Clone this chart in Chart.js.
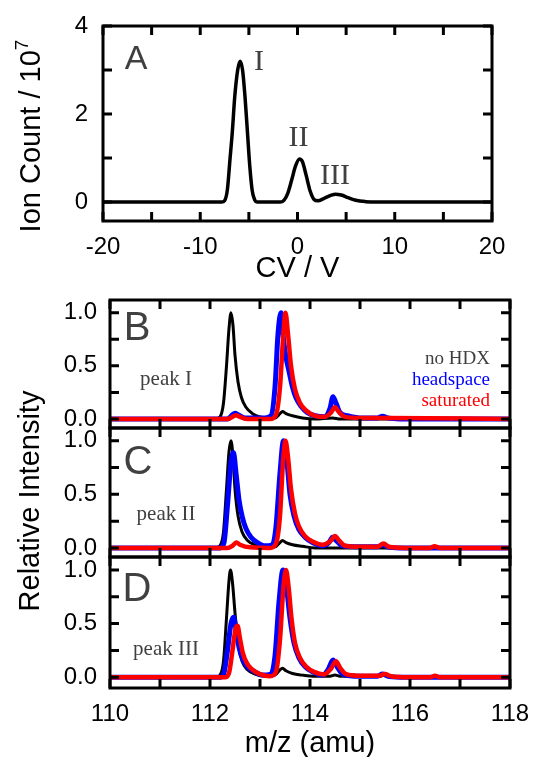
<!DOCTYPE html>
<html>
<head>
<meta charset="utf-8">
<script src="https://cdn.jsdelivr.net/npm/chart.js@4.4.0/dist/chart.umd.min.js"></script>
<style>
  body { margin: 0; background: #fff; }
  #wrap { position: relative; width: 533px; height: 757px; overflow: hidden; }
  canvas { position: absolute; left: 0; }
  .ytitle {
    position: absolute;
    transform: translate(-50%, -50%) rotate(-90deg);
    font: 29px "Liberation Sans", Arial, sans-serif;
    white-space: nowrap; color: #000;
  }
  .ytitle sup { font-size: 19px; vertical-align: 12px; line-height: 0; }
</style>
</head>
<body>
<div id="wrap">
  <canvas id="panelA" width="533" height="290" style="top:0px"></canvas>
  <canvas id="panelB" width="533" height="150" style="top:290px"></canvas>
  <canvas id="panelC" width="533" height="150" style="top:420px"></canvas>
  <canvas id="panelD" width="533" height="215" style="top:550px"></canvas>
  <div class="ytitle" style="left:30px; top:136px">Ion Count / 10<sup>7</sup></div>
  <div class="ytitle" style="left:29px; top:501px">Relative Intensity</div>
</div>
<script>
// tick labels and tick marks
const cvTicks = [-20, -10, 0, 10, 20];
const cvMinor = [-20, -15, -10, -5, 0, 5, 10, 15, 20];
const ionTicks = [0, 2, 4];
const ionMinor = [0, 1, 2, 3, 4];
const mzTicks = [110, 112, 114, 116, 118];
const mzMinor = [110, 111, 112, 113, 114, 115, 116, 117, 118];
const relTicks = [0, 0.5, 1.0];
const relMinor = [0, 0.25, 0.5, 0.75, 1.0];

// panel A: ion count (x10^7) vs CV
const cvCurve = [[-20,0],[-7.8,0],[-7.5,0.03],[-7.2,0.3],[-6.95,0.95],[-6.7,1.6],[-6.45,2.4],[-6.15,3.0],[-5.9,3.2],
  [-5.65,3.0],[-5.4,2.4],[-5.15,1.6],[-4.9,0.8],[-4.65,0.25],[-4.4,0.05],[-4.1,0],[-1.8,0],[-1.4,0.04],[-1.0,0.2],
  [-0.6,0.5],[-0.2,0.82],[0.2,0.98],[0.5,0.92],[0.9,0.6],[1.3,0.25],[1.7,0.06],[2.1,0.03],[2.7,0.08],[3.4,0.15],
  [3.9,0.18],[4.5,0.16],[5.2,0.1],[6.0,0.04],[7.0,0.01],[8.2,0],[20,0]];

// panel B: peak I
const bNoHdx = [[110,0],[112.1,0],[112.2,0.02],[112.27,0.15],[112.33,0.5],[112.38,0.85],[112.42,1.0],[112.46,0.88],
  [112.5,0.6],[112.56,0.35],[112.63,0.2],[112.72,0.11],[112.85,0.05],[113.0,0.02],[113.3,0.01],[113.4,0.05],
  [113.45,0.07],[113.52,0.05],[113.65,0.03],[113.85,0.01],[114.1,0],[114.45,0.01],[114.6,0],[118,0]];
const bHead = [[110,0],[112.35,0],[112.45,0.04],[112.5,0.055],[112.56,0.04],[112.7,0.01],[113.1,0.01],[113.22,0.03],
  [113.3,0.3],[113.36,0.8],[113.42,1.0],[113.47,0.75],[113.52,0.58],[113.58,0.45],[113.65,0.3],[113.72,0.2],
  [113.82,0.12],[113.95,0.06],[114.1,0.03],[114.3,0.02],[114.4,0.1],[114.46,0.21],[114.52,0.15],[114.6,0.06],
  [114.75,0.03],[115.0,0.01],[115.35,0.01],[115.45,0.025],[115.55,0.01],[115.8,0],[118,0]];
const bSat = [[110,0],[112.35,0],[112.45,0.02],[112.52,0.035],[112.6,0.02],[112.75,0],[113.2,0],[113.32,0.04],
  [113.4,0.3],[113.46,0.75],[113.51,1.0],[113.56,0.8],[113.62,0.5],[113.7,0.28],[113.8,0.15],[113.92,0.08],
  [114.1,0.03],[114.3,0.02],[114.42,0.06],[114.5,0.11],[114.57,0.07],[114.7,0.02],[115.0,0.01],[115.5,0.01],[118,0]];

// panel C: peak II
const cNoHdx = [[110,0],[112.1,0],[112.2,0.02],[112.27,0.15],[112.33,0.55],[112.38,0.9],[112.42,1.0],[112.46,0.85],
  [112.5,0.55],[112.56,0.3],[112.64,0.15],[112.75,0.07],[112.9,0.03],[113.1,0.01],[113.3,0.01],[113.4,0.05],
  [113.45,0.07],[113.52,0.05],[113.65,0.03],[113.85,0.015],[114.1,0],[118,0]];
const cHead = [[110,0],[112.2,0],[112.28,0.05],[112.35,0.4],[112.42,0.8],[112.47,0.89],[112.52,0.7],[112.58,0.45],
  [112.65,0.28],[112.72,0.18],[112.82,0.1],[112.95,0.05],[113.1,0.02],[113.25,0.03],[113.32,0.2],[113.4,0.7],
  [113.47,1.0],[113.53,0.85],[113.6,0.5],[113.68,0.3],[113.78,0.17],[113.9,0.1],[114.05,0.05],[114.25,0.02],
  [114.38,0.05],[114.45,0.1],[114.52,0.07],[114.65,0.02],[115.0,0.01],[115.35,0.01],[115.45,0.03],[115.55,0.01],
  [115.8,0],[118,0]];
const cSat = [[110,0],[112.35,0],[112.45,0.02],[112.53,0.05],[112.6,0.03],[112.8,0.005],[113.2,0],[113.32,0.04],
  [113.4,0.3],[113.46,0.8],[113.51,1.0],[113.56,0.85],[113.62,0.55],[113.7,0.32],[113.78,0.2],[113.9,0.11],
  [114.05,0.06],[114.25,0.03],[114.4,0.06],[114.5,0.11],[114.58,0.07],[114.7,0.02],[115.0,0.01],[115.35,0.01],
  [115.47,0.04],[115.58,0.01],[115.9,0],[116.4,0],[116.49,0.015],[116.6,0],[118,0]];

// panel D: peak III
const dNoHdx = [[110,0],[112.1,0],[112.2,0.02],[112.27,0.15],[112.33,0.55],[112.38,0.9],[112.41,1.0],[112.45,0.88],
  [112.5,0.6],[112.56,0.32],[112.64,0.15],[112.75,0.07],[112.9,0.03],[113.1,0.01],[113.3,0.02],[113.4,0.07],
  [113.45,0.085],[113.52,0.06],[113.65,0.035],[113.85,0.02],[114.1,0.01],[114.4,0.01],[114.5,0.02],[114.6,0.01],
  [115.4,0.01],[115.5,0.02],[115.6,0],[118,0]];
const dHead = [[110,0],[112.2,0],[112.28,0.04],[112.35,0.25],[112.42,0.5],[112.47,0.56],[112.52,0.45],[112.58,0.28],
  [112.66,0.16],[112.76,0.09],[112.9,0.05],[113.05,0.02],[113.22,0.03],[113.3,0.2],[113.38,0.7],[113.46,1.0],
  [113.52,0.88],[113.6,0.55],[113.68,0.32],[113.78,0.18],[113.9,0.1],[114.05,0.05],[114.25,0.02],[114.36,0.07],
  [114.46,0.16],[114.54,0.1],[114.65,0.03],[115.0,0.01],[115.35,0.01],[115.45,0.03],[115.55,0.01],[115.8,0],[118,0]];
const dSat = [[110,0],[112.3,0],[112.38,0.04],[112.45,0.25],[112.51,0.45],[112.55,0.48],[112.6,0.36],[112.66,0.22],
  [112.74,0.13],[112.85,0.07],[113.0,0.03],[113.2,0.01],[113.32,0.05],[113.4,0.35],[113.47,0.85],[113.52,1.0],
  [113.57,0.85],[113.63,0.55],[113.7,0.32],[113.8,0.18],[113.92,0.1],[114.08,0.05],[114.28,0.025],[114.42,0.08],
  [114.52,0.15],[114.6,0.09],[114.72,0.03],[115.0,0.015],[115.38,0.015],[115.5,0.03],[115.62,0.01],[116.0,0],
  [116.4,0],[116.5,0.015],[116.6,0],[118,0]];

Chart.defaults.font.family = '"Liberation Sans", Arial, sans-serif';
Chart.defaults.color = '#000';

const SANS = '"Liberation Sans", Arial, sans-serif';
const SERIF = '"Liberation Serif", "Times New Roman", serif';
const GREY = '#404040';

// box with inward ticks on all four sides, plus text notes in data coords
function frame(minorX, minorY, notes) {
  return {
    id: 'frame',
    beforeDatasetsDraw(chart) {
      const { ctx, scales: { x, y } } = chart;
      ctx.save();
      ctx.textBaseline = 'middle';
      notes.forEach(n => {
        ctx.font = n.font;
        ctx.fillStyle = n.color;
        ctx.textAlign = n.align || 'center';
        ctx.fillText(n.text, x.getPixelForValue(n.x), y.getPixelForValue(n.y));
      });
      ctx.restore();
    },
    afterDatasetsDraw(chart) {
      const { ctx, chartArea: a, scales: { x, y } } = chart;
      const len = 9;
      ctx.save();
      ctx.strokeStyle = '#000';
      ctx.lineWidth = 3;
      ctx.beginPath();
      minorX.forEach(v => {
        const px = x.getPixelForValue(v);
        ctx.moveTo(px, a.bottom); ctx.lineTo(px, a.bottom - len);
        ctx.moveTo(px, a.top); ctx.lineTo(px, a.top + len);
      });
      minorY.forEach(v => {
        const py = y.getPixelForValue(v);
        ctx.moveTo(a.left, py); ctx.lineTo(a.left + len, py);
        ctx.moveTo(a.right, py); ctx.lineTo(a.right - len, py);
      });
      ctx.stroke();
      ctx.strokeRect(a.left, a.top, a.right - a.left, a.bottom - a.top);
      ctx.restore();
    }
  };
}

const setTicks = list => s => { s.ticks = list.map(v => ({ value: v })); };
const fixWidth = w => s => { s.width = w; s.paddingTop = 0; s.paddingBottom = 0; };
const fixHeight = h => s => { s.height = h; s.paddingLeft = 0; s.paddingRight = 0; };

// order: lower number is painted on top
function line(data, color, width, order) {
  return { data, borderColor: color, borderWidth: width, pointRadius: 0, fill: false, order,
    cubicInterpolationMode: 'monotone' };
}

const noGrid = { display: false, drawTicks: false };
const base = {
  responsive: false,
  animation: false,
  events: [],
  plugins: { legend: { display: false }, tooltip: { enabled: false } }
};

new Chart(document.getElementById('panelA'), {
  type: 'line',
  data: { datasets: [line(cvCurve, '#000', 3.5, 0)] },
  options: {
    ...base,
    layout: { padding: { left: 0, right: 41, top: 26, bottom: 0 } },
    scales: {
      x: {
        type: 'linear', min: -20, max: 20,
        grid: noGrid, border: { display: false },
        ticks: { font: { size: 24 }, padding: 12, maxRotation: 0, autoSkip: false },
        afterBuildTicks: setTicks(cvTicks),
        afterFit: fixHeight(69),
        title: { display: true, text: 'CV / V', font: { size: 29 }, padding: { top: 0, bottom: 4 } }
      },
      y: {
        min: -0.43, max: 4,
        grid: noGrid, border: { display: false },
        ticks: { font: { size: 24 }, padding: 15 },
        afterBuildTicks: setTicks(ionTicks),
        afterFit: fixWidth(103)
      }
    }
  },
  plugins: [frame(cvMinor, ionMinor, [
    { x: -16.6, y: 3.23, text: 'A', font: '34px ' + SANS, color: GREY },
    { x: -3.95, y: 3.18, text: 'I', font: '30px ' + SERIF, color: GREY },
    { x: 0.1, y: 1.45, text: 'II', font: '30px ' + SERIF, color: GREY },
    { x: 3.85, y: 0.59, text: 'III', font: '30px ' + SERIF, color: GREY }
  ])]
});

function spectrum(id, series, notes, opts) {
  const x = {
    type: 'linear', min: 110, max: 118, display: opts.showX,
    grid: noGrid, border: { display: false },
    ticks: { font: { size: 24 }, padding: 12, maxRotation: 0, autoSkip: false },
    afterBuildTicks: setTicks(mzTicks),
    title: { display: opts.showX, text: 'm/z (amu)', font: { size: 29 }, padding: { top: 0, bottom: 4 } }
  };
  if (opts.showX) x.afterFit = fixHeight(77);
  return new Chart(document.getElementById(id), {
    type: 'line',
    data: { datasets: [
      line(series[0], '#000', 3, 2),
      line(series[1], '#0000ff', 5, 1),
      line(series[2], '#ff0000', 4.5, 0)
    ] },
    options: {
      ...base,
      layout: { padding: { left: 0, right: 23, top: opts.top, bottom: opts.bottom } },
      scales: {
        x,
        y: {
          min: opts.min, max: 1.12,
          grid: noGrid, border: { display: false },
          ticks: { font: { size: 24 }, padding: 13, callback: v => v.toFixed(1) },
          afterBuildTicks: setTicks(relTicks),
          afterFit: fixWidth(110)
        }
      }
    },
    plugins: [frame(mzMinor, relMinor, notes)]
  });
}

spectrum('panelB', [bNoHdx, bHead, bSat], [
  { x: 110.54, y: 0.85, text: 'B', font: '40px ' + SANS, color: GREY },
  { x: 111.12, y: 0.37, text: 'peak I', font: '21px ' + SERIF, color: GREY },
  { x: 117.6, y: 0.56, text: 'no HDX', font: '19px ' + SERIF, color: GREY, align: 'right' },
  { x: 117.6, y: 0.37, text: 'headspace', font: '19px ' + SERIF, color: '#0000ff', align: 'right' },
  { x: 117.6, y: 0.17, text: 'saturated', font: '19px ' + SERIF, color: '#ff0000', align: 'right' }
], { top: 10, bottom: 12, min: -0.085, showX: false });

spectrum('panelC', [cNoHdx, cHead, cSat], [
  { x: 110.56, y: 0.79, text: 'C', font: '40px ' + SANS, color: GREY },
  { x: 111.12, y: 0.31, text: 'peak II', font: '21px ' + SERIF, color: GREY }
], { top: 8, bottom: 13, min: -0.085, showX: false });

spectrum('panelD', [dNoHdx, dHead, dSat], [
  { x: 110.54, y: 0.81, text: 'D', font: '40px ' + SANS, color: GREY },
  { x: 111.12, y: 0.26, text: 'peak III', font: '21px ' + SERIF, color: GREY }
], { top: 7, bottom: 0, min: -0.1, showX: true });
</script>
</body>
</html>
